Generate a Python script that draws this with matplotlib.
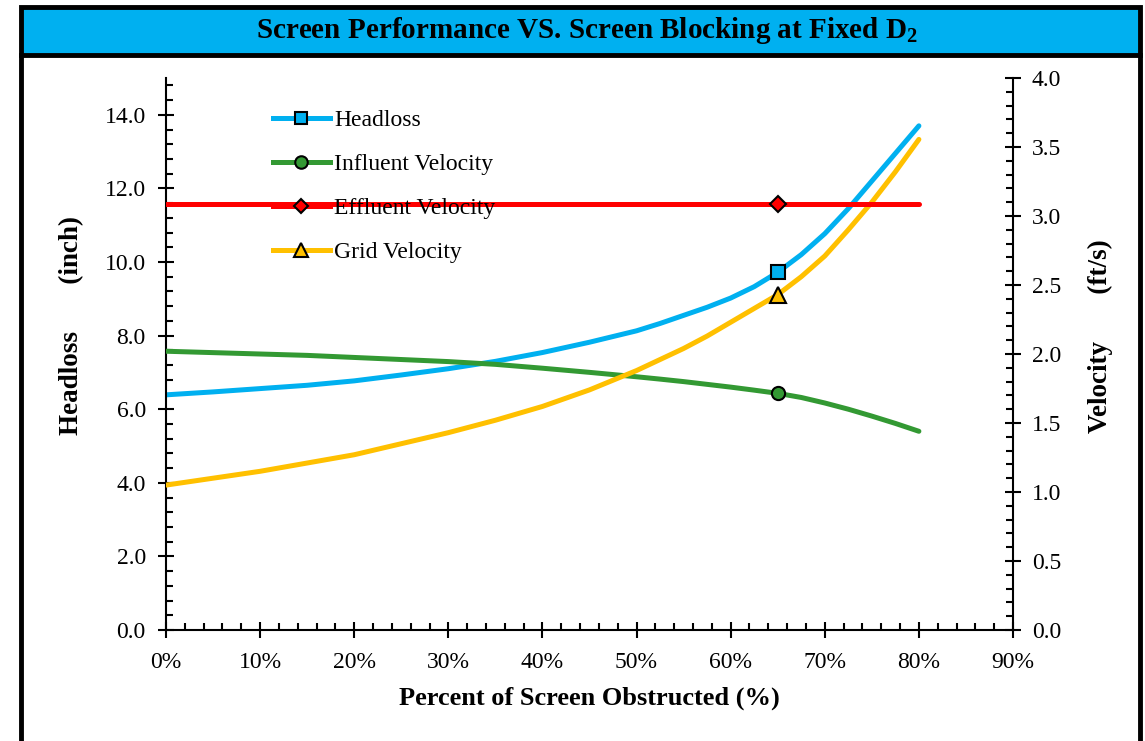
import numpy as np
import matplotlib.pyplot as plt
from matplotlib.lines import Line2D
from matplotlib.patches import Rectangle
from matplotlib.ticker import MultipleLocator, PercentFormatter

plt.rcParams['font.family'] = ['Liberation Serif', 'DejaVu Serif']
plt.rcParams['mathtext.fontset'] = 'custom'
plt.rcParams['mathtext.rm'] = 'Liberation Serif'
plt.rcParams['mathtext.bf'] = 'Liberation Serif:bold'

# percent of screen obstructed (fraction)
blocked = [0.00, 0.05, 0.10, 0.15, 0.20, 0.25, 0.30, 0.35, 0.40, 0.45,
           0.50, 0.525, 0.55, 0.575, 0.60, 0.625, 0.65, 0.675, 0.70,
           0.725, 0.75, 0.775, 0.80]
# headloss (inch), left axis
headloss = [6.39, 6.47, 6.56, 6.65, 6.77, 6.93, 7.10, 7.30, 7.54, 7.82,
            8.13, 8.33, 8.55, 8.77, 9.02, 9.33, 9.72, 10.20, 10.77,
            11.45, 12.20, 12.95, 13.70]
# velocities (ft/s), right axis
influent = [2.02, 2.01, 2.00, 1.99, 1.975, 1.96, 1.945, 1.925, 1.897, 1.867,
            1.835, 1.818, 1.80, 1.78, 1.76, 1.738, 1.715, 1.685, 1.645,
            1.60, 1.55, 1.497, 1.44]
effluent = [3.09] * 23
grid_vel = [1.05, 1.10, 1.15, 1.21, 1.27, 1.35, 1.43, 1.52, 1.62, 1.74,
            1.88, 1.96, 2.04, 2.13, 2.23, 2.33, 2.43, 2.56, 2.71,
            2.90, 3.10, 3.32, 3.555]
design_idx = 16  # 65% point marked on each curve

c_head = '#00B0F0'
c_inf = '#339933'
c_eff = '#FF0000'
c_grid = '#FFC000'

fig = plt.figure(figsize=(11.45, 7.41), dpi=100)
ax = fig.add_axes([166 / 1145, 1 - 630 / 741, 847 / 1145, 552 / 741])
ax2 = ax.twinx()

lw = 3.6
ax.plot(blocked, headloss, color=c_head, lw=lw, solid_capstyle='round')
ax2.plot(blocked, influent, color=c_inf, lw=lw, solid_capstyle='round')
ax2.plot(blocked, grid_vel, color=c_grid, lw=lw, solid_capstyle='round')
ax2.plot(blocked, effluent, color=c_eff, lw=lw, solid_capstyle='round')

xm = blocked[design_idx]
ax.plot(xm, headloss[design_idx], 's', ms=9.5, mfc=c_head, mec='black', mew=1.5)
ax2.plot(xm, influent[design_idx], 'o', ms=9.5, mfc=c_inf, mec='black', mew=1.5)
ax2.plot(xm, effluent[design_idx], 'D', ms=8, mfc=c_eff, mec='black', mew=1.5)
ax2.plot(xm, grid_vel[design_idx], '^', ms=11, mfc=c_grid, mec='black', mew=1.5)

ax.set_xlim(0, 0.9)
ax.set_ylim(0, 15)
ax2.set_ylim(0, 4)
ax.set_yticks(np.arange(0, 15, 2.0))
ax2.set_yticks(np.arange(0, 4.01, 0.5))
ax.set_xticks(np.arange(0, 0.91, 0.1))
ax.xaxis.set_major_formatter(PercentFormatter(xmax=1, decimals=0))
ax.yaxis.set_major_formatter(plt.FormatStrFormatter('%.1f'))
ax2.yaxis.set_major_formatter(plt.FormatStrFormatter('%.1f'))
ax.xaxis.set_minor_locator(MultipleLocator(0.02))
ax.yaxis.set_minor_locator(MultipleLocator(0.4))
ax2.yaxis.set_minor_locator(MultipleLocator(0.1))

for a in (ax, ax2):
    a.spines['top'].set_visible(False)
    for s in a.spines.values():
        s.set_linewidth(1.5)
ax.spines['right'].set_visible(False)
ax2.spines['left'].set_visible(False)
ax2.spines['bottom'].set_visible(False)

ax.tick_params(axis='y', which='major', direction='inout', length=11, width=1.5, labelsize=17, pad=9)
ax.tick_params(axis='x', which='major', direction='inout', length=11, width=1.5, labelsize=17, pad=10)
ax.tick_params(which='minor', direction='in', length=5, width=1.5)
ax2.tick_params(which='major', direction='inout', length=11, width=1.5, labelsize=17, pad=8)
ax2.tick_params(which='minor', direction='in', length=5, width=1.5)

ax.set_xlabel('Percent of Screen Obstructed (%)', fontsize=19, fontweight='bold', labelpad=10)
fig.text(72 / 1145, 1 - 326 / 741, 'Headloss       (inch)', rotation=90,
         fontsize=19.5, fontweight='bold', ha='center', va='center')
fig.text(1100 / 1145, 1 - 336 / 741, 'Velocity       (ft/s)', rotation=90,
         fontsize=19.5, fontweight='bold', ha='center', va='center')

handles = [
    Line2D([], [], color=c_head, lw=lw, marker='s', ms=9, mfc=c_head, mec='black', mew=1.5),
    Line2D([], [], color=c_inf, lw=lw, marker='o', ms=9, mfc=c_inf, mec='black', mew=1.5),
    Line2D([], [], color=c_eff, lw=lw, marker='D', ms=7.5, mfc=c_eff, mec='black', mew=1.5),
    Line2D([], [], color=c_grid, lw=lw, marker='^', ms=10, mfc=c_grid, mec='black', mew=1.5),
]
labels = ['Headloss', 'Influent Velocity', 'Effluent Velocity', 'Grid Velocity']
ax2.legend(handles, labels, loc='upper left', bbox_to_anchor=(0.1263, 0.9425),
           frameon=False, fontsize=17, handlelength=2.4, handletextpad=0.2,
           labelspacing=0.95, borderaxespad=0, borderpad=0)

# title band and outer frame
fig.add_artist(Rectangle((21 / 1145, 1 - 55 / 741), 1119 / 1145, 48 / 741,
                         transform=fig.transFigure, facecolor='#00B0F0',
                         edgecolor='black', lw=3.5, zorder=0))
fig.add_artist(Line2D([21 / 1145, 21 / 1145], [0, 1 - 55 / 741],
                      transform=fig.transFigure, color='black', lw=3.5))
fig.add_artist(Line2D([1140 / 1145, 1140 / 1145], [0, 1 - 55 / 741],
                      transform=fig.transFigure, color='black', lw=3.5))
fig.text(587 / 1145, 1 - 31 / 741, r'Screen Performance VS. Screen Blocking at Fixed D$_\mathbf{2}$',
         fontsize=21, fontweight='bold', ha='center', va='center')

fig.savefig('out.png', dpi=100)
